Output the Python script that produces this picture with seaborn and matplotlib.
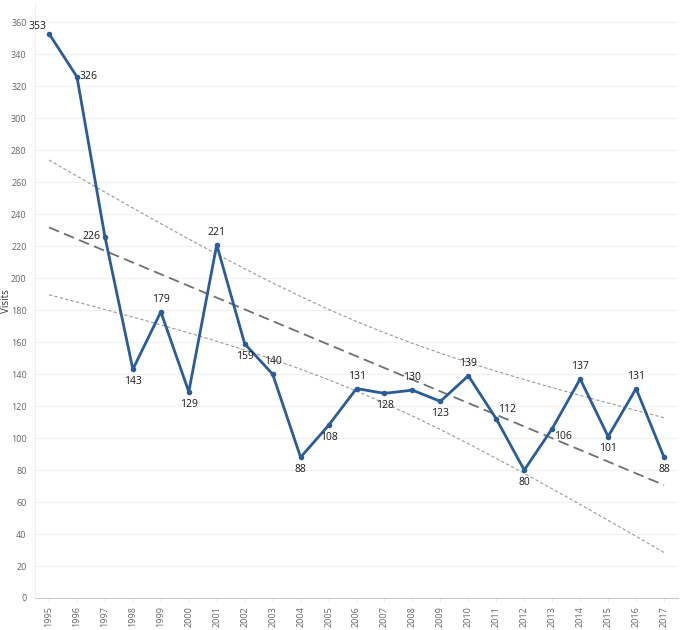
import numpy as np
import pandas as pd
import matplotlib
matplotlib.use("Agg")
import matplotlib.pyplot as plt
import seaborn as sns

# Datos
years = [str(y) for y in range(1995, 2018)]
visits = [353, 326, 226, 143, 179, 129, 221, 159, 140, 88, 108, 131,
          128, 130, 123, 139, 112, 80, 106, 137, 101, 131, 88]
# posición de cada etiqueta respecto al punto
label_pos = ["ul", "r", "l", "b", "a", "b", "a", "b", "a", "b", "b", "a",
             "b", "a", "b", "a", "ur", "b", "br", "a", "b", "a", "b"]

df = pd.DataFrame({"year": years, "visits": visits})
df["x"] = np.arange(len(df))

# Tendencia lineal (MCO) e intervalo de confianza del 95 % de la media
n = len(df)
x = df["x"].to_numpy(float)
y = df["visits"].to_numpy(float)
slope, intercept = np.polyfit(x, y, 1)
fit = intercept + slope * x
s = np.sqrt(np.sum((y - fit) ** 2) / (n - 2))
t95 = 2.080  # t(0.975, 21)
half = t95 * s * np.sqrt(1 / n + (x - x.mean()) ** 2 / np.sum((x - x.mean()) ** 2))
df["fit"] = fit
df["upper"] = fit + half
df["lower"] = fit - half

sns.set_theme(style="white")
plt.rcParams["font.family"] = ["Open Sans", "DejaVu Sans"]

fig = plt.figure(figsize=(6.8, 6.3), dpi=100)
ax = fig.add_axes([0.0515, 0.0508, 0.9456, 0.944])

ax.yaxis.grid(True, color="#f0f0f0", linewidth=0.8)
ax.set_axisbelow(True)

for col in ["upper", "lower"]:
    sns.lineplot(data=df, x="x", y=col, ax=ax, color="#9a9a9a", linewidth=0.8,
                 linestyle=(0, (3, 2)))
sns.lineplot(data=df, x="x", y="fit", ax=ax, color="#707070", linewidth=1.3,
             linestyle=(0, (6, 3)))
sns.lineplot(data=df, x="x", y="visits", ax=ax, color="#2a5c9c", linewidth=2.0,
             marker="o", markersize=4, markeredgewidth=0)

offsets = {"a": ((0, 5), "center", "bottom"), "b": ((0, -5), "center", "top"),
           "l": ((-3, 0), "right", "center"), "r": ((2, 0), "left", "center"),
           "ul": ((-2, 1), "right", "bottom"), "ur": ((1, 3), "left", "bottom"),
           "br": ((1, -2), "left", "top")}
for xi, v, p in zip(df["x"], df["visits"], label_pos):
    off, ha, va = offsets[p]
    ax.annotate(str(v), (xi, v), xytext=off, textcoords="offset points",
                ha=ha, va=va, fontsize=7.5, color="#1a1a1a")

ax.set_xlim(-0.5, n - 0.5)
ax.set_ylim(0, 372)
ax.set_yticks(range(0, 361, 20))
ax.set_xticks(df["x"])
ax.set_xticklabels(years, rotation=90)
ax.tick_params(axis="x", labelsize=6.5, colors="#666666", length=3, width=0.5,
               color="#dddddd", bottom=True, pad=3)
ax.tick_params(axis="y", labelsize=6.5, colors="#666666", length=0, pad=6)
ax.set_xlabel("")
ax.set_ylabel("Visits", fontsize=7, color="#333333")
ax.yaxis.set_label_coords(-0.036, 0.5)

for side in ["top", "right"]:
    ax.spines[side].set_visible(False)
ax.spines["left"].set_color("#f0f0f0")
ax.spines["left"].set_linewidth(0.8)
ax.spines["bottom"].set_color("#cccccc")
ax.spines["bottom"].set_linestyle((0, (1, 1)))
ax.spines["bottom"].set_linewidth(0.8)

fig.savefig("out.png", dpi=100)
